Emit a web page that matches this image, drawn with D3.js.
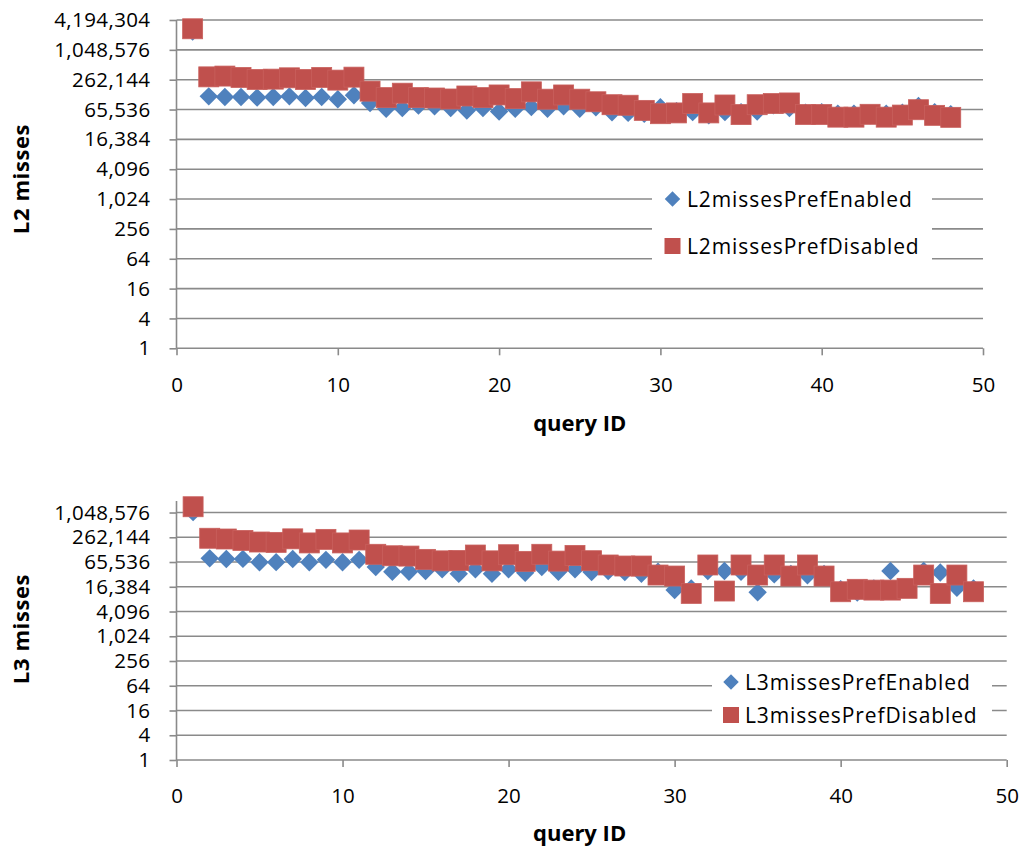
<!DOCTYPE html>
<html>
<head>
<meta charset="utf-8">
<script src="https://cdn.jsdelivr.net/npm/d3@7"></script>
<style>
  html, body { margin: 0; padding: 0; background: #ffffff; }
  svg { display: block; font-family: "Open Sans", "Noto Sans", sans-serif; }
</style>
</head>
<body>
<svg id="chart" width="1026" height="850"></svg>
<script>
// Query identifiers shared by both panels
const queryIds = [1, 2, 3, 4, 5, 6, 7, 8, 9, 10, 11, 12, 13, 14, 15, 16, 17, 18, 19, 20,
  21, 22, 23, 24, 25, 26, 27, 28, 29, 30, 31, 32, 33, 34, 35, 36, 37, 38, 39, 40,
  41, 42, 43, 44, 45, 46, 47, 48];

// L2 cache misses per query
const l2MissesPrefEnabled = [2460000, 121000, 117000, 117000, 114000, 117000, 121000, 112000, 117000, 106000,
  127000, 89000, 68000, 70000, 78500, 76000, 70000, 62400, 70000, 60000,
  68000, 73600, 68000, 76000, 68000, 72700, 57500, 56000, 54000, 72700,
  61000, 58000, 50000, 58000, 58000, 60000, 80000, 70000, 56700, 58000,
  54000, 54000, 50000, 54000, 56700, 77000, 58000, 52500];
const l2MissesPrefDisabled = [2790000, 299000, 310000, 291000, 265000, 269000, 286000, 265000, 291000, 257000,
  295000, 154000, 114000, 140000, 114000, 112000, 107000, 123000, 114000, 129000,
  109000, 149000, 106000, 129000, 106000, 94000, 82000, 80000, 63000, 54000,
  56000, 86500, 56000, 81000, 51800, 82000, 86500, 89000, 52000, 52000,
  46000, 46000, 52500, 46000, 50700, 65000, 50000, 45600];

// L3 cache misses per query
const l3MissesPrefEnabled = [1070000, 80500, 77500, 78000, 64600, 65000, 77500, 64600, 74000, 64600,
  74000, 49500, 38000, 38000, 39500, 43500, 34000, 43500, 34000, 43500,
  36000, 49500, 38000, 43500, 37400, 39500, 37400, 34000, 38000, 13600,
  15000, 39500, 39500, 38000, 12000, 32800, 33400, 31100, 33400, 14400,
  11800, 15000, 39500, 15200, 40000, 36500, 15500, 15000];
const l3MissesPrefDisabled = [1450000, 248000, 238000, 220000, 201000, 197000, 240000, 191000, 233000, 191000,
  225000, 101000, 93000, 91500, 76000, 70000, 71500, 97000, 70000, 98600,
  68000, 101000, 69000, 95000, 70500, 55500, 52400, 52400, 31600, 29900,
  11300, 55500, 12900, 55500, 31600, 55500, 29900, 55500, 29900, 12400,
  14200, 13600, 13600, 15000, 31600, 11300, 31600, 12400];

// Axis ticks
const xTicks = [0, 10, 20, 30, 40, 50];
const l2Ticks = [1, 4, 16, 64, 256, 1024, 4096, 16384, 65536, 262144, 1048576, 4194304];
const l3Ticks = [1, 4, 16, 64, 256, 1024, 4096, 16384, 65536, 262144, 1048576];

const svg = d3.select("#chart");
const gridColor = "#8a8a8a";
const blue = "#4F81BD";
const red = "#C0504D";
const fmt = d3.format(",");

function drawPanel(p) {
  const g = svg.append("g");
  const x = d3.scaleLinear().domain([0, 50]).range([p.left, p.right]);
  const y = d3.scaleLog().base(4).domain(p.yDomain).range([p.bottom, p.top]);

  // horizontal gridlines
  g.selectAll("line.grid")
    .data(p.yTicks.filter(v => v > 1))
    .join("line")
    .attr("x1", p.left).attr("x2", p.right)
    .attr("y1", d => y(d)).attr("y2", d => y(d))
    .attr("stroke", gridColor).attr("stroke-width", 1.6);

  // y axis
  const yAxis = d3.axisLeft(y).tickValues(p.yTicks).tickFormat(fmt)
    .tickSize(7).tickPadding(19);
  const ya = g.append("g").attr("transform", `translate(${p.left},0)`).call(yAxis);
  ya.select(".domain").attr("stroke", gridColor).attr("stroke-width", 1.6)
    .attr("d", `M-0,${p.top}V${p.bottom}`);
  ya.selectAll(".tick line").attr("stroke", gridColor).attr("stroke-width", 1.6);
  ya.selectAll(".tick text").attr("font-size", 20.5).attr("fill", "#000")
    .attr("font-family", "Open Sans").attr("letter-spacing", 0.4);

  // x axis
  const xAxis = d3.axisBottom(x).tickValues(xTicks).tickSize(7).tickPadding(p.xPad);
  const xa = g.append("g").attr("transform", `translate(0,${p.bottom})`).call(xAxis);
  xa.select(".domain").attr("stroke", gridColor).attr("stroke-width", 1.6)
    .attr("d", `M${p.left},0H${p.right}`);
  xa.selectAll(".tick line").attr("stroke", gridColor).attr("stroke-width", 1.6);
  xa.selectAll(".tick text").attr("font-size", 20.5).attr("fill", "#000")
    .attr("font-family", "Open Sans");

  // axis titles
  g.append("text")
    .attr("transform", `translate(${p.yTitleX},${p.yTitleY}) rotate(-90)`)
    .attr("text-anchor", "middle").attr("dominant-baseline", "central")
    .attr("font-size", 22).attr("font-weight", "bold").attr("letter-spacing", 0.6)
    .text(p.yTitle);
  g.append("text")
    .attr("x", (p.left + p.right) / 2 + p.xTitleDx).attr("y", p.xTitleY)
    .attr("text-anchor", "middle").attr("dominant-baseline", "central")
    .attr("font-size", 22).attr("font-weight", "bold").text("query ID");

  // legend (drawn before the markers so points sit above it)
  const lg = g.append("g");
  lg.append("rect")
    .attr("x", p.legend.x0).attr("y", p.legend.y0)
    .attr("width", p.legend.x1 - p.legend.x0).attr("height", p.legend.y1 - p.legend.y0)
    .attr("fill", "#fff");
  const diamond = d3.symbol().type(d3.symbolSquare).size(11 * 11);
  lg.append("path")
    .attr("d", diamond())
    .attr("transform", `translate(${p.legend.mx},${p.legend.row1}) rotate(45)`)
    .attr("fill", blue);
  lg.append("rect")
    .attr("x", p.legend.mx - 8).attr("y", p.legend.row2 - 8)
    .attr("width", 16).attr("height", 16).attr("fill", red);
  lg.append("text").attr("x", p.legend.tx).attr("y", p.legend.row1)
    .attr("dominant-baseline", "central").attr("font-size", 21)
    .attr("letter-spacing", 0.9).text(p.names[0]);
  lg.append("text").attr("x", p.legend.tx).attr("y", p.legend.row2)
    .attr("dominant-baseline", "central").attr("font-size", 21)
    .attr("letter-spacing", 0.9).text(p.names[1]);

  // series: blue diamonds first, red squares on top
  const s1 = queryIds.map((id, i) => ({ id, v: p.enabled[i] }));
  const s2 = queryIds.map((id, i) => ({ id, v: p.disabled[i] }));
  const dsym = d3.symbol().type(d3.symbolSquare).size(13 * 13);
  g.append("g").selectAll("path")
    .data(s1).join("path")
    .attr("d", dsym())
    .attr("transform", d => `translate(${x(d.id)},${y(d.v)}) rotate(45)`)
    .attr("fill", blue);
  g.append("g").selectAll("rect")
    .data(s2).join("rect")
    .attr("x", d => x(d.id) - 10).attr("y", d => y(d.v) - 10)
    .attr("width", 20).attr("height", 20)
    .attr("fill", red).attr("stroke", "#c9605d").attr("stroke-width", 0.8);
}

drawPanel({
  left: 176.5, right: 983, top: 20, bottom: 348.3,
  yDomain: [1, 4194304], yTicks: l2Ticks,
  enabled: l2MissesPrefEnabled, disabled: l2MissesPrefDisabled,
  yTitle: "L2 misses", yTitleX: 20, yTitleY: 179,
  xTitleY: 422, xTitleDx: 0, xPad: 22,
  names: ["L2missesPrefEnabled", "L2missesPrefDisabled"],
  legend: { x0: 652, x1: 932, y0: 180, y1: 268, mx: 672.5, tx: 687, row1: 199, row2: 246 }
});

drawPanel({
  left: 176.5, right: 1006.7, top: 501, bottom: 760,
  yDomain: [1, 2000000], yTicks: l3Ticks,
  enabled: l3MissesPrefEnabled, disabled: l3MissesPrefDisabled,
  yTitle: "L3 misses", yTitleX: 20, yTitleY: 629,
  xTitleY: 832, xTitleDx: -12, xPad: 21,
  names: ["L3missesPrefEnabled", "L3missesPrefDisabled"],
  legend: { x0: 712, x1: 992, y0: 672, y1: 723, mx: 731, tx: 745, row1: 682, row2: 715 }
});
</script>
</body>
</html>
